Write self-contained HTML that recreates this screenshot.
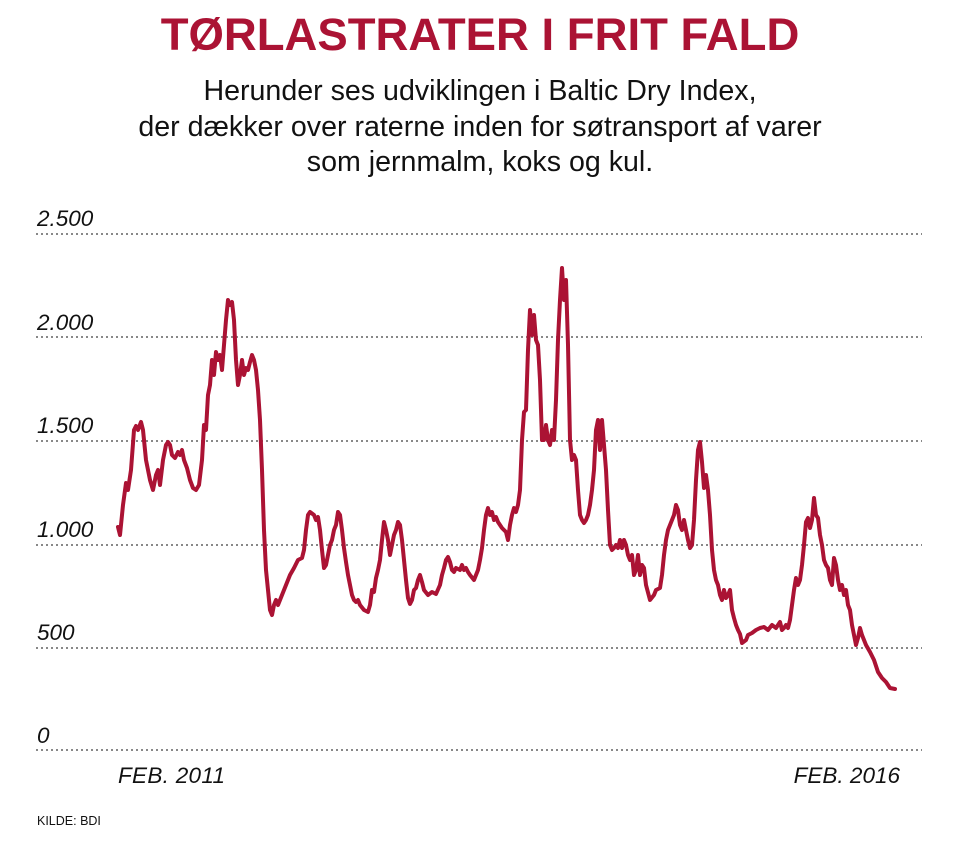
<!DOCTYPE html>
<html><head><meta charset="utf-8"><style>
body{margin:0;background:#fff;width:960px;height:842px;overflow:hidden;font-family:"Liberation Sans",Arial,sans-serif}
</style></head><body>
<svg width="960" height="842" xmlns="http://www.w3.org/2000/svg" font-family="Liberation Sans, Arial, sans-serif">
<text x="480" y="50" text-anchor="middle" font-size="45.5" font-weight="bold" fill="#ab1334">TØRLASTRATER I FRIT FALD</text>
<g font-size="28.6" fill="#111" text-anchor="middle">
<text x="480" y="100">Herunder ses udviklingen i Baltic Dry Index,</text>
<text x="480" y="136">der dækker over raterne inden for søtransport af varer</text>
<text x="480" y="171">som jernmalm, koks og kul.</text>
</g>
<g stroke="#888" stroke-width="2" stroke-dasharray="2,3">
<line x1="36" x2="922" y1="234" y2="234"/>
<line x1="36" x2="922" y1="337" y2="337"/>
<line x1="36" x2="922" y1="441" y2="441"/>
<line x1="36" x2="922" y1="545" y2="545"/>
<line x1="36" x2="922" y1="648" y2="648"/>
<line x1="36" x2="922" y1="750" y2="750"/>
</g>
<g font-size="22.5" font-style="italic" fill="#111">
<text x="37" y="226">2.500</text>
<text x="37" y="330">2.000</text>
<text x="37" y="433">1.500</text>
<text x="37" y="537">1.000</text>
<text x="37" y="640">500</text>
<text x="37" y="743">0</text>
<text x="118" y="783" textLength="107">FEB. 2011</text>
<text x="900" y="783" text-anchor="end">FEB. 2016</text>
</g>
<text x="37" y="825" font-size="12.5" fill="#111">KILDE: BDI</text>
<polyline fill="none" stroke="#ab1334" stroke-width="4" stroke-linejoin="round" stroke-linecap="round" points="118,527 120,535 123,505 126,483 128,490 131,470 134,430 136,426 138,430 141,422 143,430 146,460 150,480 153,490 156,475 158,470 160,485 163,460 166,445 168,442 170,445 172,455 175,458 178,452 180,455 182,450 184,460 187,468 190,480 193,488 196,490 199,485 202,460 204,425 206,430 208,395 210,385 212,360 214,375 216,352 218,360 220,355 222,370 224,345 226,320 228,300 230,305 232,302 234,320 236,360 238,385 240,375 242,360 244,375 246,368 248,370 250,362 252,355 254,360 256,370 258,390 260,420 262,470 264,530 266,570 268,590 270,610 272,615 274,605 276,600 278,605 282,595 286,585 290,575 294,568 298,560 302,558 304,550 306,530 308,515 310,512 314,515 316,520 318,517 320,530 322,550 324,568 326,565 328,555 330,545 332,540 334,530 336,525 338,512 340,515 342,530 344,548 346,562 348,575 350,585 352,595 354,600 356,602 358,600 360,605 364,610 368,612 370,605 372,590 374,592 376,578 378,570 380,560 382,540 384,522 386,530 388,540 390,555 392,545 394,535 396,530 398,522 400,525 402,540 404,560 406,580 408,598 410,604 412,600 414,590 416,588 418,580 420,575 422,582 424,590 428,595 432,592 436,594 440,585 442,575 444,568 446,560 448,557 450,562 452,570 454,572 456,568 460,570 462,565 464,570 466,568 468,572 470,575 474,580 478,570 480,560 482,548 484,530 486,515 488,508 490,515 492,512 494,520 496,517 498,522 502,528 506,532 508,540 510,525 512,515 514,508 516,512 518,505 520,490 522,440 524,412 526,410 528,350 530,310 532,335 534,315 536,340 538,345 540,380 542,440 544,440 546,425 548,440 550,445 552,430 554,440 556,400 558,340 560,300 562,268 564,300 566,280 568,345 570,440 572,460 574,455 576,460 578,490 580,515 582,520 584,523 586,520 588,515 590,505 592,490 594,470 596,430 598,420 600,450 602,420 604,445 606,470 608,510 610,545 612,550 614,548 616,545 618,548 620,540 622,548 624,540 626,545 628,555 630,560 632,555 634,575 636,570 638,555 640,575 642,565 644,568 646,585 650,600 654,595 656,590 660,588 662,575 664,555 666,540 668,530 670,525 672,520 674,515 676,505 678,510 680,525 682,530 684,520 686,530 688,540 690,548 692,545 694,520 696,480 698,450 700,442 702,462 704,488 706,475 708,490 710,515 712,550 714,570 716,580 718,585 720,595 722,600 724,590 726,598 728,595 730,590 732,610 734,618 736,625 738,630 740,634 742,643 746,640 748,635 752,633 756,630 760,628 764,627 768,630 772,625 776,628 780,622 782,630 784,628 786,625 788,628 790,620 792,605 794,590 796,578 798,585 800,580 802,565 804,545 806,522 808,518 810,528 812,520 814,498 816,515 818,518 820,535 822,545 824,560 826,565 828,568 830,580 832,585 834,558 836,565 838,580 840,590 842,585 844,595 846,590 848,605 850,610 852,625 854,635 856,645 858,638 860,628 862,635 864,640 866,645 870,652 874,660 878,672 882,678 886,682 890,688 895,689"/>
</svg>
</body></html>
